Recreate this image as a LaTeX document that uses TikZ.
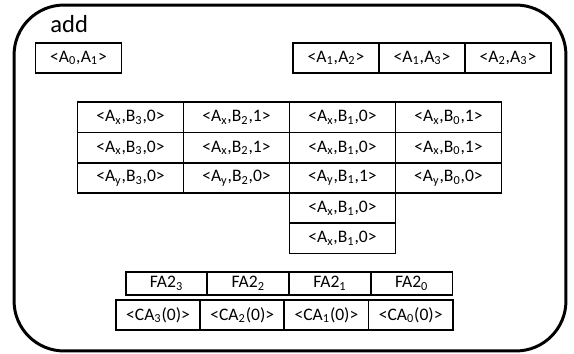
\documentclass[tikz,border=0pt]{standalone}
\usepackage{fontspec}
\setmainfont{Carlito}
\usetikzlibrary{positioning}
\tikzset{>=latex}
\newcommand{\lo}[1]{\textsubscript{#1}}
\tikzstyle{cell} = [draw, line width=1pt, inner sep=0, outer sep=0, minimum width=2.12cm, minimum height=0.605cm, font=\fontsize{10}{12}\selectfont]
\tikzstyle{pair} = [cell, minimum width=1.72cm, minimum height=0.6cm]
\tikzstyle{fa} = [cell, minimum width=1.635cm, minimum height=0.46cm]
\tikzstyle{ca} = [cell, minimum width=1.685cm, minimum height=0.6cm]

\begin{document}
\begin{tikzpicture}[x=0.02cm, y=-0.02cm]
\useasboundingbox (0,0) rectangle (574,354);
% outer block
\node [draw, line width=1.7pt, rounded corners=1cm, minimum width=11.04cm, minimum height=6.92cm, inner sep=0] (frame) at (290,178) {};
\node [anchor=base west, inner sep=0, font=\fontsize{14}{16}\selectfont] (name) at (50,33) {add};

% operand pairs
\node [pair] (a01) at (78.5,58) {<A\lo{0},A\lo{1}>};
\node [pair] (a12) at (336,58) {<A\lo{1},A\lo{2}>};
\node [pair, right=0pt of a12] (a13) {<A\lo{1},A\lo{3}>};
\node [pair, right=0pt of a13] (a23) {<A\lo{2},A\lo{3}>};

% partial products
\node [cell] (p13) at (130.5,117.5) {<A\lo{x},B\lo{3},0>};
\node [cell, right=0pt of p13] (p12) {<A\lo{x},B\lo{2},1>};
\node [cell, right=0pt of p12] (p11) {<A\lo{x},B\lo{1},0>};
\node [cell, right=0pt of p11] (p10) {<A\lo{x},B\lo{0},1>};
\node [cell, below=0pt of p13] (q13) {<A\lo{x},B\lo{3},0>};
\node [cell, right=0pt of q13] (q12) {<A\lo{x},B\lo{2},1>};
\node [cell, right=0pt of q12] (q11) {<A\lo{x},B\lo{1},0>};
\node [cell, right=0pt of q11] (q10) {<A\lo{x},B\lo{0},1>};
\node [cell, below=0pt of q13] (r13) {<A\lo{y},B\lo{3},0>};
\node [cell, right=0pt of r13] (r12) {<A\lo{y},B\lo{2},0>};
\node [cell, right=0pt of r12] (r11) {<A\lo{y},B\lo{1},1>};
\node [cell, right=0pt of r11] (r10) {<A\lo{y},B\lo{0},0>};
\node [cell, below=0pt of r11] (s11) {<A\lo{x},B\lo{1},0>};
\node [cell, below=0pt of s11] (t11) {<A\lo{x},B\lo{1},0>};

% full adders and carries
\node [fa] (fa3) at (166.5,283.5) {FA2\lo{3}};
\node [fa, right=0pt of fa3] (fa2) {FA2\lo{2}};
\node [fa, right=0pt of fa2] (fa1) {FA2\lo{1}};
\node [fa, right=0pt of fa1] (fa0) {FA2\lo{0}};
\node [ca] (ca3) at (158,315) {<CA\lo{3}(0)>};
\node [ca, right=0pt of ca3] (ca2) {<CA\lo{2}(0)>};
\node [ca, right=0pt of ca2] (ca1) {<CA\lo{1}(0)>};
\node [ca, right=0pt of ca1] (ca0) {<CA\lo{0}(0)>};
\end{tikzpicture}
\end{document}
